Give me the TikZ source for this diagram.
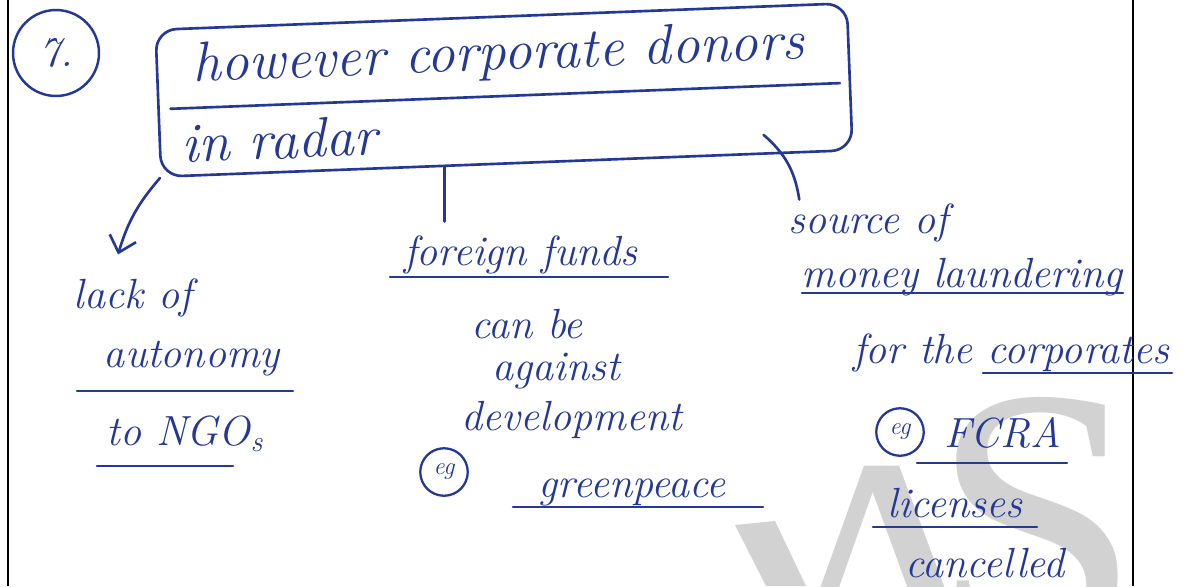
\documentclass[tikz,border=0pt]{standalone}
\usepackage{fontspec}
\newfontfamily\wmfont{Liberation Serif}
\usepackage{tikz}
\usetikzlibrary{arrows.meta,calc}
\definecolor{ink}{RGB}{36,56,150}
\definecolor{wmgray}{RGB}{210,210,210}

\begin{document}
\begin{tikzpicture}[x=0.02cm,y=-0.02cm,
  pen/.style={draw=ink,line width=1.5pt,line cap=round},
  big/.style={text=ink,font=\fontsize{32}{36}\selectfont\itshape\addfontfeature{FakeBold=2},inner sep=2pt},
  note/.style={text=ink,font=\fontsize{24}{28}\selectfont\itshape\addfontfeature{FakeBold=2},inner sep=2pt,anchor=base},
  egcirc/.style={circle,draw=ink,line width=1.3pt,text=ink,inner sep=0pt,minimum size=0.95cm,font=\fontsize{14}{16}\selectfont\itshape},
  wm/.style={text=wmgray,font=\wmfont\fontsize{215}{215}\selectfont,inner sep=0pt},
  arr/.style={pen,-{Straight Barb[length=3mm,width=5.5mm]}}]
\useasboundingbox (0,0) rectangle (1184,586);
\clip (0,0) rectangle (1184,586);
\fill[white] (0,0) rectangle (1184,586);
% watermark
\node[wm,anchor=base] (wmA) at (885,715) {A};
\node[wm,anchor=base west] (wmS) at (931,647) {S};
\fill[wmgray] (735,525) -- (775,521) -- (806,586) -- (766,586) -- cycle;
% page rules
\draw[line width=1.3pt] (8,0) -- (8,586);
\draw[line width=1.3pt] (1133,0) -- (1133,586);
% number
\node[circle,draw=ink,line width=1.4pt,minimum size=1.72cm,text=ink,font=\fontsize{24}{28}\selectfont\itshape\addfontfeature{FakeBold=2}] (num) at (56,53) {7.};
% the box
\begin{scope}[rotate around={2.2:(504,90)},transform shape]
\node[draw=ink,line width=1.5pt,rounded corners=12pt,minimum width=13.84cm,minimum height=2.94cm] (topic) at (504,90) {};
\node[big,anchor=base] (line1) at (500,70) {however corporate donors};
\node[big,anchor=base west] (line2) at (176,150) {in radar};
\draw[pen] (170,96) -- (840,96);
\end{scope}
% left
\node[note] (lack) at (133,308) {lack of};
\node[note] (auto) at (192,367) {autonomy};
\node[note] (ngo) at (185,445) {to NGO\textsubscript{s}};
\draw[pen] (77,391) -- (293,391);
\draw[pen] (97,466) -- (233,466);
% middle
\node[note] (ffunds) at (521,265) {foreign funds};
\node[note] (canbe) at (527,338) {can be};
\node[note] (against) at (556,380) {against};
\node[note] (devel) at (572,430) {development};
\node[egcirc] (eg1) at (444,472) {eg};
\node[note] (green) at (632,497) {greenpeace};
\draw[pen] (390,277) -- (668,277);
\draw[pen] (513,507) -- (763,507);
% right
\node[note] (source) at (868,233) {source of};
\node[note] (money) at (962,287) {money laundering};
\node[note] (corp) at (1011,363) {for the corporates};
\node[egcirc] (eg2) at (900,432) {eg};
\node[note] (fcra) at (1003,447) {FCRA};
\node[note] (lic) at (955,517) {licenses};
\node[note] (cancel) at (985,577) {cancelled};
\draw[pen] (802,293) -- (1123,293);
\draw[pen] (983,373) -- (1172,373);
\draw[pen] (917,463) -- (1067,463);
\draw[pen] (873,527) -- (1037,527);
% branches
\draw[arr] (topic.south west) to[bend right=12] ([xshift=-0.3cm,yshift=0.4cm]lack.north);
\coordinate (mid) at ($(topic.south west)!0.41!(topic.south east)$);
\draw[pen,shorten >=0.2cm] (mid) -- (mid |- ffunds.north);
\draw[pen] ($(topic.south west)!0.87!(topic.south east)+(0,0.4cm)$) to[bend left=20] ([xshift=0.3cm]source.north west);
\end{tikzpicture}
\end{document}
